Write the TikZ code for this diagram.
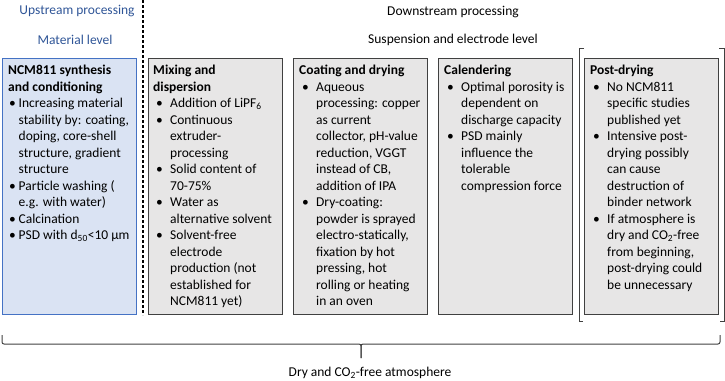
\documentclass[tikz,border=0pt]{standalone}
\usepackage{fontspec}
\setmainfont{Carlito}
\usepackage{tikz}
\usetikzlibrary{positioning,calc}
\definecolor{cA}{HTML}{2F5597}
\definecolor{cB}{HTML}{4472C4}
\definecolor{cC}{HTML}{DAE3F3}
\definecolor{cD}{HTML}{404040}
\definecolor{cE}{HTML}{E7E6E6}
\newlength\bulx
\newlength\txtx
\newcommand\bl[1]{\makebox[\txtx][l]{\hspace*{\bulx}\textbullet}#1}
\newcommand\cl[1]{\hspace*{\txtx}#1}
\tikzset{
  stage/.style={draw=cD,line width=1.4pt,fill=cE,anchor=north west,minimum width=134pt,minimum height=256pt,inner sep=0pt},
  matbox/.style={stage,draw=cB,fill=cC,line width=1pt},
  txt/.style={anchor=north west,align=left,inner sep=0pt,font=\fontsize{13.5}{16.5}\selectfont,
    execute at begin node={\setlength\bulx{3pt}\setlength\txtx{17pt}}},
  mtxt/.style={txt,execute at begin node={\setlength\bulx{1pt}\setlength\txtx{10.5pt}}},
  head/.style={font=\fontsize{13.5}{16.5}\selectfont,inner sep=0pt},
  uphead/.style={head,text=cA},
  bracel/.style={draw=cD,line width=1pt,rounded corners=2pt},
}

\begin{document}
\begin{tikzpicture}[x=1pt,y=-1pt]
  \useasboundingbox (0,0) rectangle (725,380);
  \node[uphead] (up) at (77,11) {Upstream processing};
  \node[uphead] (mat) at (75,40) {Material level};
  \node[head] (down) at (453,12) {Downstream processing};
  \node[head] (susp) at (453,40) {Suspension and electrode level};
  \draw[dash pattern=on 3pt off 2pt,line width=1.2pt] (143,0) -- (143,315);
  \node[matbox] (syn) at (2,58) {};
  \node[stage] (mix) at (148,58) {};
  \node[stage] (coat) at (293,58) {};
  \node[stage] (cal) at (438,58) {};
  \node[stage] (post) at (584,58) {};
  \node[mtxt,below right=7pt and 6pt of syn.north west] (syn-t) {%
    \textbf{NCM811 synthesis}\\ \textbf{and conditioning}\\
    \bl{Increasing material}\\ \cl{stability by: coating,}\\ \cl{doping, core-shell}\\
    \cl{structure, gradient}\\ \cl{structure}\\
    \bl{Particle washing (}\\ \cl{e.g. with water)}\\
    \bl{Calcination}\\
    \bl{PSD with d\textsubscript{50}<10 µm}};
  \node[txt,below right=7pt and 5pt of mix.north west] (mix-t) {%
    \textbf{Mixing and}\\ \textbf{dispersion}\\
    \bl{Addition of LiPF\textsubscript{6}}\\
    \bl{Continuous}\\ \cl{extruder-}\\ \cl{processing}\\
    \bl{Solid content of}\\ \cl{70-75\%}\\
    \bl{Water as}\\ \cl{alternative solvent}\\
    \bl{Solvent-free}\\ \cl{electrode}\\ \cl{production (not}\\ \cl{established for}\\ \cl{NCM811 yet)}};
  \node[txt,below right=7pt and 6pt of coat.north west] (coat-t) {%
    \textbf{Coating and drying}\\
    \bl{Aqueous}\\ \cl{processing: copper}\\ \cl{as current}\\ \cl{collector, pH-value}\\
    \cl{reduction, VGGT}\\ \cl{instead of CB,}\\ \cl{addition of IPA}\\
    \bl{Dry-coating:}\\ \cl{powder is sprayed}\\ \cl{electro-statically,}\\ \cl{fixation by hot}\\
    \cl{pressing, hot}\\ \cl{rolling or heating}\\ \cl{in an oven}};
  \node[txt,below right=7pt and 6pt of cal.north west] (cal-t) {%
    \textbf{Calendering}\\
    \bl{Optimal porosity is}\\ \cl{dependent on}\\ \cl{discharge capacity}\\
    \bl{PSD mainly}\\ \cl{influence the}\\ \cl{tolerable}\\ \cl{compression force}};
  \node[txt,below right=7pt and 6pt of post.north west] (post-t) {%
    \textbf{Post-drying}\\
    \bl{No NCM811}\\ \cl{specific studies}\\ \cl{published yet}\\
    \bl{Intensive post-}\\ \cl{drying possibly}\\ \cl{can cause}\\ \cl{destruction of}\\ \cl{binder network}\\
    \bl{If atmosphere is}\\ \cl{dry and CO\textsubscript{2}-free}\\ \cl{from beginning,}\\
    \cl{post-drying could}\\ \cl{be unnecessary}};
  \draw[draw=cD,line width=1pt] ($(post.north west)+(0,-10)$) -| ($(post.south west)+(-5,6)$) -- ++(4,0);
  \draw[draw=cD,line width=1pt] ($(post.north east)+(0,-10)$) -| ($(post.south east)+(5,6)$) -- ++(-4,0);
  \coordinate (bl) at (2,335);
  \coordinate (br) at (720,335);
  \coordinate (mid) at (361,344);
  \coordinate (tip) at (361,358);
  \draw[bracel] (bl) |- (mid) -- (tip);
  \draw[bracel] (br) |- (mid) -- (tip);
  \node[head] (atm) at (370,373) {Dry and CO\textsubscript{2}-free atmosphere};
\end{tikzpicture}
\end{document}
